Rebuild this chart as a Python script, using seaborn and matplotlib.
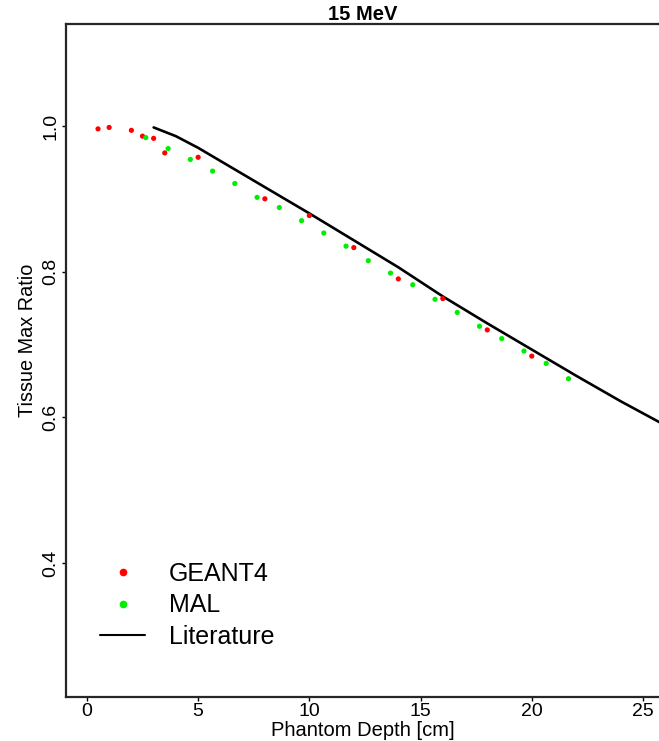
import numpy as np
import pandas as pd
import matplotlib
matplotlib.use("Agg")
import matplotlib.pyplot as plt
from matplotlib.lines import Line2D
import seaborn as sns

sns.set_style("ticks")
plt.rcParams["font.family"] = ["Liberation Sans", "DejaVu Sans"]
plt.rcParams["text.color"] = "black"
plt.rcParams["axes.labelcolor"] = "black"
plt.rcParams["xtick.color"] = "black"
plt.rcParams["ytick.color"] = "black"

# data
geant4_depth = [0.5, 1, 2, 2.5, 3, 3.5, 5, 8, 10, 12, 14, 16, 18, 20]
geant4_tmr = [0.996, 0.998, 0.994, 0.986, 0.983, 0.963, 0.957, 0.900,
              0.877, 0.833, 0.790, 0.763, 0.720, 0.684]

mal_depth = [2.65, 3.65, 4.65, 5.65, 6.65, 7.65, 8.65, 9.65, 10.65, 11.65,
             12.65, 13.65, 14.65, 15.65, 16.65, 17.65, 18.65, 19.65, 20.65, 21.65]
mal_tmr = [0.984, 0.969, 0.954, 0.938, 0.921, 0.902, 0.888, 0.870, 0.853, 0.835,
           0.815, 0.798, 0.782, 0.762, 0.744, 0.725, 0.708, 0.691, 0.674, 0.653]

lit_depth = [3, 4, 5, 6, 7, 8, 9, 10, 12, 14, 16, 18, 20, 22, 24, 26]
lit_tmr = [0.998, 0.986, 0.970, 0.952, 0.934, 0.916, 0.898, 0.880, 0.843,
           0.806, 0.766, 0.729, 0.693, 0.657, 0.622, 0.589]

points = pd.concat([
    pd.DataFrame({"depth": geant4_depth, "tmr": geant4_tmr, "source": "GEANT4"}),
    pd.DataFrame({"depth": mal_depth, "tmr": mal_tmr, "source": "MAL"}),
])
lit = pd.DataFrame({"depth": lit_depth, "tmr": lit_tmr})

W, H = 659, 741
fig = plt.figure(figsize=(W / 100, H / 100), dpi=100)
ax = fig.add_axes([66 / W, 1 - 697 / H, (W - 66) / W, (697 - 24) / H])

sns.lineplot(data=lit, x="depth", y="tmr", color="black", linewidth=1.9,
             ax=ax, legend=False, zorder=1)
sns.scatterplot(data=points, x="depth", y="tmr", hue="source",
                palette={"GEANT4": "#ff0000", "MAL": "#00ee00"},
                s=14, linewidth=0, ax=ax, legend=False, zorder=2)

ax.set_xlim(-0.94, 25.72)
ax.set_ylim(0.216, 1.14)
ax.set_xticks([0, 5, 10, 15, 20, 25])
ax.set_yticks([0.4, 0.6, 0.8, 1.0])
ax.set_yticklabels(["0.4", "0.6", "0.8", "1.0"], rotation=90, va="center")
ax.tick_params(axis="x", labelsize=14, length=3, width=1, pad=1)
ax.tick_params(axis="y", labelsize=14, length=3, width=1, pad=2)

for side in ["left", "bottom", "top"]:
    ax.spines[side].set_linewidth(1.6)
ax.spines["right"].set_visible(False)

ax.set_xlabel("Phantom Depth [cm]", fontsize=14.5)
ax.xaxis.set_label_coords(0.5, -(730 - 697) / (697 - 24), transform=ax.transAxes)
ax.xaxis.label.set_va("center")
ax.set_ylabel("Tissue Max Ratio", fontsize=14.3)
ax.yaxis.set_label_coords(-(66 - 28) / (W - 66), (697 - 340) / (697 - 24))
ax.yaxis.label.set_va("center")
ax.set_title("15 MeV", fontsize=14.5, fontweight="bold", pad=2)

handles = [
    Line2D([], [], marker="o", linestyle="none", color="#ff0000", markersize=4.5),
    Line2D([], [], marker="o", linestyle="none", color="#00ee00", markersize=4.5),
    Line2D([], [], color="black", linewidth=1.5),
]
fig.legend(handles, ["GEANT4", "MAL", "Literature"], loc="upper left",
           bbox_to_anchor=(100 / W, 1 - 562 / H), frameon=False,
           fontsize=18, handlelength=1.8, handletextpad=0.95,
           labelspacing=0.3, borderpad=0, borderaxespad=0)

fig.savefig("out.png", dpi=100)
